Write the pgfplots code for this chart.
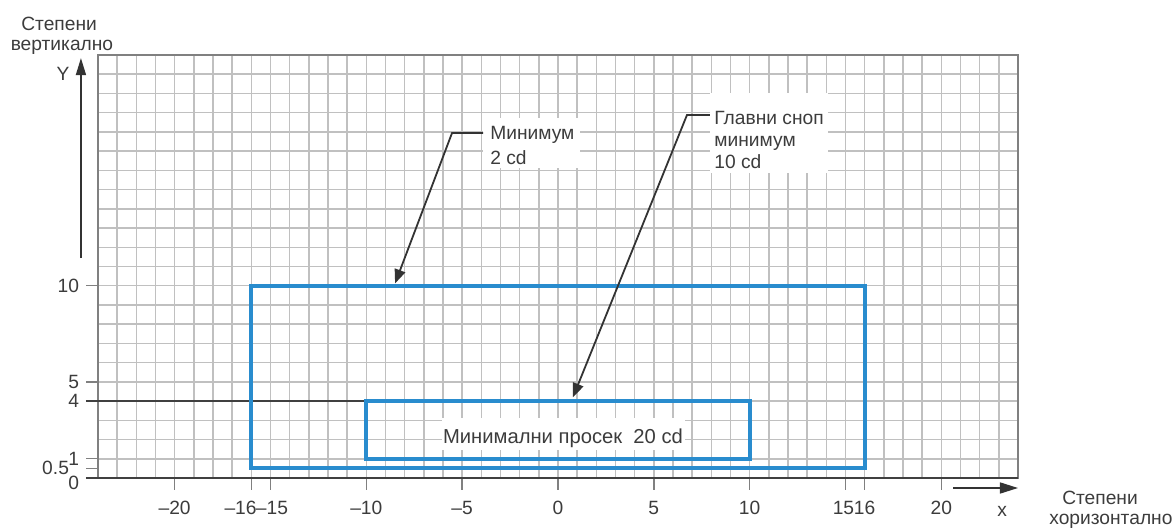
\documentclass[border=0pt]{standalone}
\usepackage{fontspec}
\setmainfont{Liberation Sans}
\usepackage{pgfplots}
\pgfplotsset{compat=1.18}
\usetikzlibrary{arrows.meta}
\definecolor{lampblue}{RGB}{41,140,206}
\definecolor{txt}{RGB}{60,60,60}
\definecolor{gridc}{RGB}{192,192,192}
\newcommand{\sh}[2]{\makebox[0pt]{\hspace*{#1}#2}}
\newcommand{\fnt}{\fontsize{9.6}{11}\selectfont}
\begin{document}
\begin{tikzpicture}[x=1pt,y=1pt]
\useasboundingbox (0,0) rectangle (587.5,265.5);
\begin{axis}[
  at={(49pt,26.5pt)}, anchor=south west,
  scale only axis, width=460pt, height=211.5pt,
  xmin=-24, xmax=24, ymin=0, ymax=22,
  clip=false,
  xtick={-24,-23,...,24},
  ytick={0,1,...,22},
  xticklabels={},
  yticklabels={},
  major tick length=0pt,
  major tick style={draw=none},
  grid=major,
  major grid style={gridc, line width=0.75pt},
  extra x ticks={-20,-16,-15,-10,-5,0,5,10,15,16,20},
  extra x tick labels={–20,\sh{-10.8pt}{–16},\sh{1.5pt}{–15},–10,–5,0,5,10,\sh{-2pt}{15},\sh{0pt}{16},20},
  extra y ticks={0,0.5,1,4,5,10},
  extra y tick labels={\raisebox{-2.5pt}[\height][\depth]{0},0.5\hspace*{5pt},1,4,5,10},
  extra tick style={grid=none, major tick length=6pt, major tick style={draw=black!50, line width=0.7pt}},
  tick align=outside,
  tick pos=left,
  axis line style={black!50, line width=0.8pt},
  ticklabel style={font=\fnt, text=txt},
  xticklabel style={yshift=-2pt},
]
% white boxes behind the labels
\fill[white] (axis cs:-3.91,18.72) rectangle (axis cs:1.15,16.12);
\fill[white] (axis cs:7.93,20.02) rectangle (axis cs:14.08,15.86);
% dark reference lines
\draw[black!75, line width=0.8pt] (axis cs:-24.63,4) -- (axis cs:-2.35,4);
\draw[black!75, line width=0.9pt] (axis cs:-24.63,0) -- (axis cs:24,0);
% the two zones
\addplot[lampblue, line width=2pt, line join=miter, line cap=rect] coordinates {(-16,0.5) (16,0.5) (16,10) (-16,10) (-16,0.5)};
\addplot[lampblue, line width=2pt, line join=miter, line cap=rect] coordinates {(-10,1) (10,1) (10,4) (-10,4) (-10,1)};
\fill[white] (axis cs:-6.05,3.12) rectangle (axis cs:6.63,1.46);
% axis arrows
\draw[black!80, line width=0.8pt, -{Triangle[length=8.5pt,width=5pt]}] (axis cs:-24.89,11.44) -- (axis cs:-24.89,21.84);
\draw[black!80, line width=0.8pt, -{Triangle[length=9pt,width=5.5pt]}] (axis cs:20.61,-0.52) -- (axis cs:24.0,-0.52);
% leaders
\draw[black!80, line width=0.9pt, -{Triangle[length=7pt,width=5.5pt]}] (axis cs:-3.91,17.94) -- (axis cs:-5.53,17.94) -- (axis cs:-8.5,10.12);
\draw[black!80, line width=0.9pt, -{Triangle[length=7pt,width=5.5pt]}] (axis cs:7.93,18.88) -- (axis cs:6.73,18.88) -- (axis cs:0.78,4.2);
% texts
\begin{scope}[every node/.style={font=\fnt, text=txt, inner sep=0pt}]
\node[anchor=base west] at (axis cs:-3.55,17.58) {Минимум};
\node[anchor=base west] at (axis cs:-3.55,16.28) {2 cd};
\node[anchor=base west] at (axis cs:8.14,18.36) {Главни сноп};
\node[anchor=base west] at (axis cs:8.14,17.22) {минимум};
\node[anchor=base west] at (axis cs:8.14,16.12) {10 cd};
\node[anchor=base, font=\fontsize{10.1}{12}\selectfont] at (axis cs:0.26,1.82) {Минимални просек\ \ 20 cd};
\node at (axis cs:-25.83,21.01) {Y};
\node at (axis cs:23.17,-1.72) {x};
\node at (axis cs:28.28,-1.04) {Степени};
\node at (axis cs:28.85,-2.24) {хоризонтално};
\node at (axis cs:-26.03,23.61) {Степени};
\node at (axis cs:-25.88,22.42) {вертикално};
\end{scope}
\end{axis}
\end{tikzpicture}
\end{document}
